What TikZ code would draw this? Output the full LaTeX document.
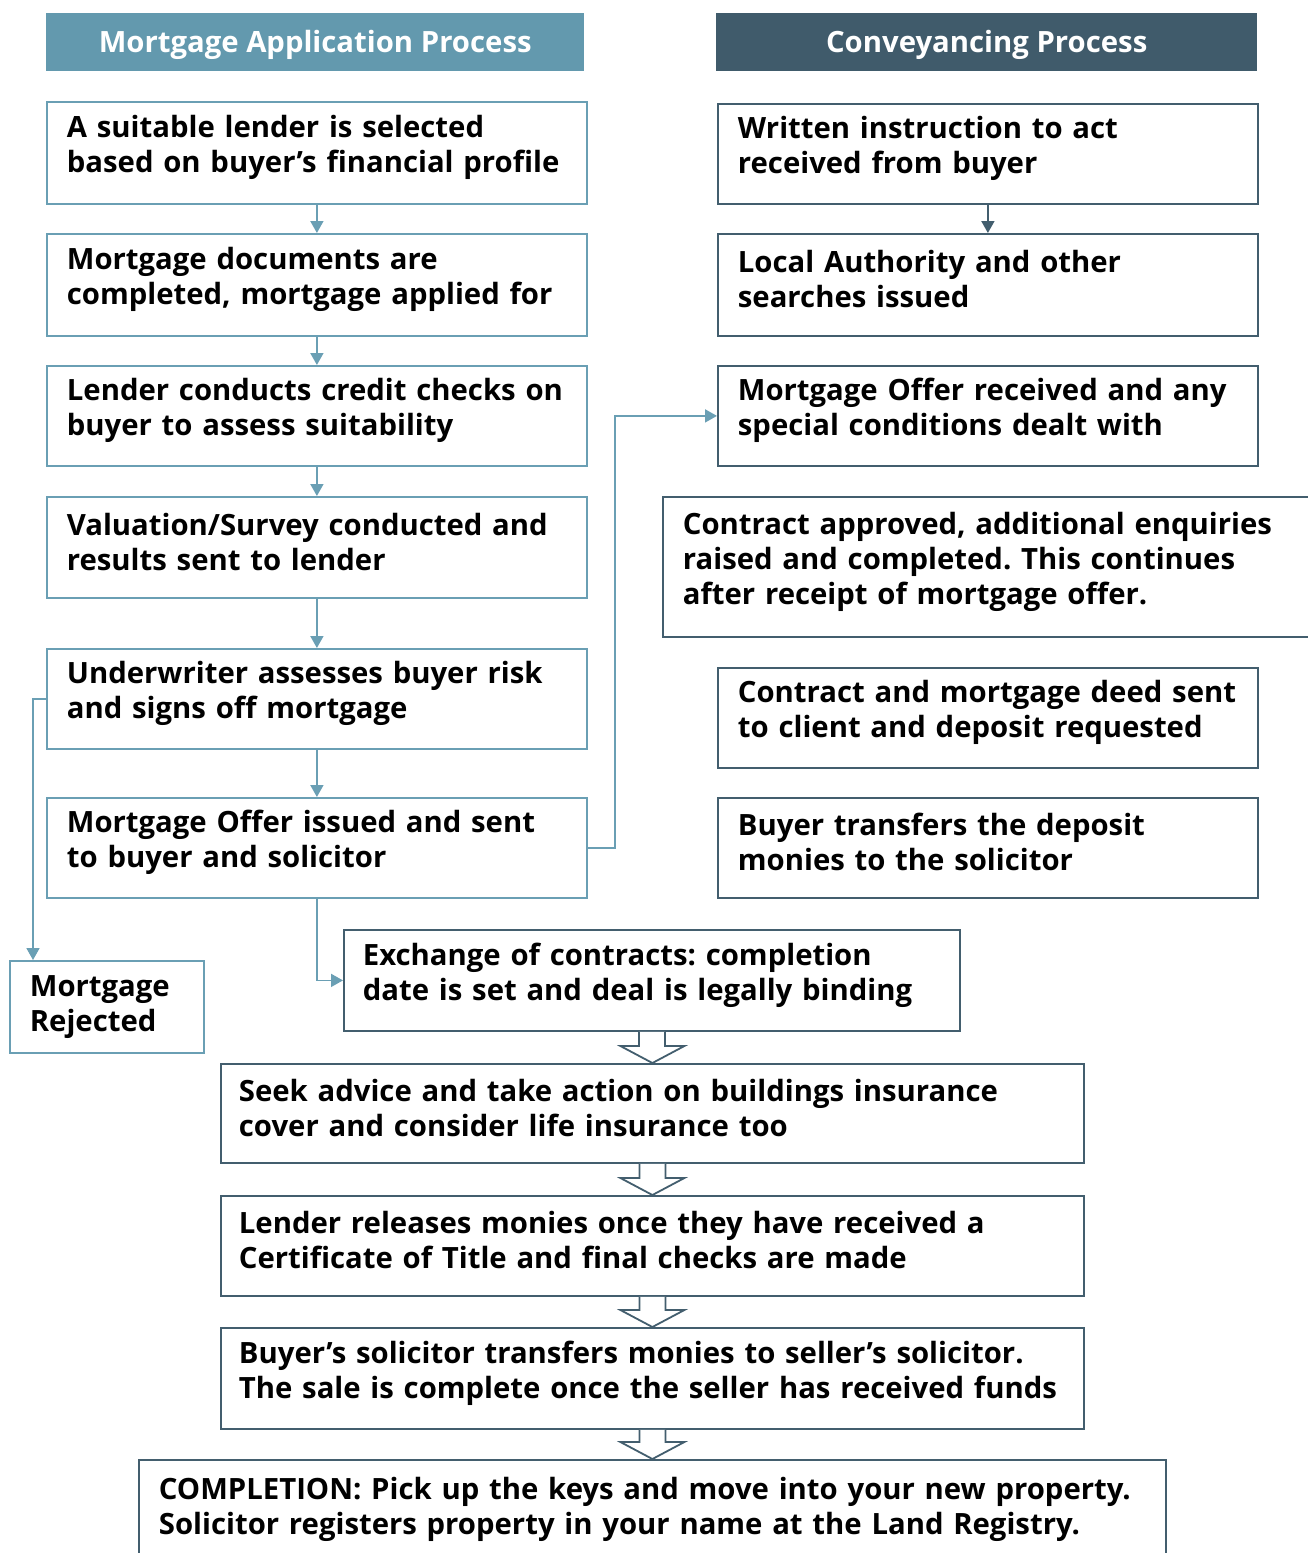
\documentclass[tikz,border=0pt]{standalone}
\usepackage{fontspec}
\setmainfont{Open Sans}
\usetikzlibrary{arrows.meta,calc}
\definecolor{lblue}{HTML}{6A9FB4}
\definecolor{dslate}{HTML}{435E6E}
\definecolor{hleft}{HTML}{6399AE}
\definecolor{hright}{HTML}{405B6B}
\newcommand\hollowarrow[2]{%
  \draw[blk] ($(#1.south)+(-13,0)$) |- ($(#2.north)+(-32,-17)$) -- (#2.north)
    -- ($(#2.north)+(32,-17)$) -| ($(#1.south)+(13,0)$);}
\newcommand\boxtail{\par\hrule height 0pt depth 11pt width 0pt}
\frenchspacing
\begin{document}
\begin{tikzpicture}[x=1pt,y=-1pt,
  every node/.style={font=\fontsize{29.3}{35}\selectfont\bfseries},
  plainbox/.style={draw, line width=1.8pt, fill=white, anchor=north west, align=left,
    inner xsep=20pt, inner ysep=0pt},
  box/.style={plainbox, execute at end node=\boxtail},
  lbox/.style={box, draw=lblue},
  rbox/.style={box, draw=dslate},
  hdr/.style={anchor=north west, inner sep=0pt, text=white, align=center},
  arrL/.style={draw=lblue, line width=1.8pt, -{Triangle[width=13pt,length=12pt]}},
  arrR/.style={draw=dslate, line width=1.8pt, -{Triangle[width=13pt,length=12pt]}},
  blk/.style={draw=dslate, fill=white, line width=1.8pt, line join=miter}
]
\useasboundingbox (0,0) rectangle (1308,1553);

% headers
\node[hdr, fill=hleft, minimum width=538pt, minimum height=58pt, text depth=2pt] (hL) at (46,13) {Mortgage Application Process};
\node[hdr, fill=hright, minimum width=541pt, minimum height=58pt, text depth=2pt] (hR) at (716,13) {Conveyancing Process};

% left column
\node[lbox, text width=500pt, minimum height=102pt] (L1) at (46,101) {A suitable lender is selected\\based on buyer’s financial profile};
\node[lbox, text width=500pt, minimum height=102pt] (L2) at (46,233) {Mortgage documents are\\completed, mortgage applied for};
\node[lbox, text width=500pt, minimum height=100pt] (L3) at (46,365) {Lender conducts credit checks on\\buyer to assess suitability};
\node[lbox, text width=500pt, minimum height=101pt] (L4) at (46,496) {Valuation/Survey conducted and\\results sent to lender};
\node[lbox, text width=500pt, minimum height=100pt] (L5) at (46,648) {Underwriter assesses buyer risk\\and signs off mortgage};
\node[lbox, text width=500pt, minimum height=100pt] (L6) at (46,797) {Mortgage Offer issued and sent\\to buyer and solicitor};
\node[plainbox, draw=lblue, text width=154pt, minimum height=92pt] (rej) at (9,960) {Mortgage\\Rejected};

% right column
\node[rbox, text width=500pt, minimum height=100pt] (R1) at (717,103) {Written instruction to act\\received from buyer};
\node[rbox, text width=500pt, minimum height=102pt] (R2) at (717,233) {Local Authority and other\\searches issued};
\node[rbox, text width=500pt, minimum height=100pt] (R3) at (717,365) {Mortgage Offer received and any\\special conditions dealt with};
\node[rbox, text width=630pt, minimum height=140pt] (R4) at (662,496) {Contract approved, additional enquiries\\raised and completed. This continues\\after receipt of mortgage offer.};
\node[rbox, text width=500pt, minimum height=100pt] (R5) at (717,667) {Contract and mortgage deed sent\\to client and deposit requested};
\node[rbox, text width=500pt, minimum height=100pt] (R6) at (717,797) {Buyer transfers the deposit\\monies to the solicitor};

% bottom
\node[rbox, text width=578pt, minimum height=101pt, inner xsep=19pt] (ex) at (343,929) {Exchange of contracts: completion\\date is set and deal is legally binding};
\node[rbox, text width=827pt, minimum height=99pt, inner xsep=18pt] (seek) at (220,1063) {Seek advice and take action on buildings insurance\\cover and consider life insurance too};
\node[rbox, text width=827pt, minimum height=100pt, inner xsep=18pt] (lend) at (220,1195) {Lender releases monies once they have received a\\Certificate of Title and final checks are made};
\node[rbox, text width=827pt, minimum height=101pt, inner xsep=18pt] (buy) at (220,1327) {Buyer’s solicitor transfers monies to seller’s solicitor.\\The sale is complete once the seller has received funds};
\node[rbox, text width=987pt, minimum height=110pt] (comp) at (138,1459) {COMPLETION: Pick up the keys and move into your new property.\\Solicitor registers property in your name at the Land Registry.};

% connectors left
\draw[arrL] (L1.south) -- (L2.north);
\draw[arrL] (L2.south) -- (L3.north);
\draw[arrL] (L3.south) -- (L4.north);
\draw[arrL] (L4.south) -- (L5.north);
\draw[arrL] (L5.south) -- (L6.north);
\draw[arrL] (L5.west) -| ($(rej.north west)+(24,0)$);
\draw[arrL] (L6.east) -- ++(27,0) |- (R3.west);
\draw[arrL] (L6.south) |- (ex.west);

% connectors right
\draw[arrR] (R1.south) -- (R2.north);

% hollow block arrows
\hollowarrow{ex}{seek}
\hollowarrow{seek}{lend}
\hollowarrow{lend}{buy}
\hollowarrow{buy}{comp}
\end{tikzpicture}
\end{document}
